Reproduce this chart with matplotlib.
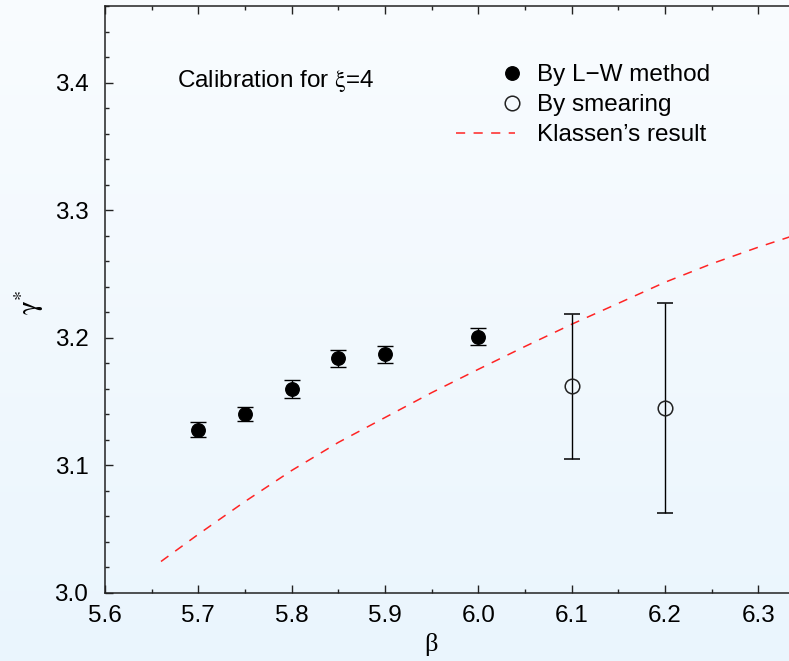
#!/usr/bin/env python3

import numpy as np
import matplotlib
matplotlib.use("Agg")
import matplotlib.pyplot as plt
from matplotlib.lines import Line2D
from matplotlib.legend_handler import HandlerLine2D
from matplotlib.ticker import MultipleLocator

# L-W method points
beta_lw = [5.70, 5.75, 5.80, 5.85, 5.90, 6.00]
gamma_lw = [3.128, 3.140, 3.160, 3.184, 3.187, 3.201]
err_lw = [0.006, 0.0055, 0.0068, 0.0068, 0.0068, 0.0065]

# smearing points
beta_sm = [6.10, 6.20]
gamma_sm = [3.162, 3.145]
err_sm = [0.057, 0.082]

# Klassen's curve
beta_kl = [5.66, 5.70, 5.75, 5.80, 5.85, 5.90, 5.95, 6.00, 6.05, 6.10,
           6.15, 6.20, 6.25, 6.30, 6.35]
gamma_kl = [3.0247, 3.046, 3.0717, 3.096, 3.118, 3.1375, 3.157, 3.1753,
            3.1932, 3.2106, 3.227, 3.2435, 3.258, 3.271, 3.283]


class RightMarkerHandler(HandlerLine2D):
    # single legend marker sits at the right end of the handle box
    def get_xdata(self, legend, xdescent, ydescent, width, height, fontsize):
        xm = -xdescent + width - 2
        return [xm - 1, xm + 1], [xm]


def main():
    plt.rcParams["font.family"] = ["Liberation Sans", "DejaVu Sans"]
    plt.rcParams["mathtext.fontset"] = "stix"

    W, H = 789, 661
    fig = plt.figure(figsize=(W / 100, H / 100), dpi=100)

    # soft gradient background
    bg = fig.add_axes([0, 0, 1, 1], zorder=-10)
    top = np.array([0.976, 0.988, 0.998])
    bot = np.array([0.918, 0.962, 0.993])
    t = np.linspace(0, 1, 256)[:, None]
    grad = top[None, :] * (1 - t) + bot[None, :] * t
    bg.imshow(grad[:, None, :], aspect="auto", extent=[0, 1, 0, 1])
    bg.axis("off")

    left_px, right_px = 105, 789
    bottom_px, top_px = 593, 6
    px_per_tenth = 93.33
    ax = fig.add_axes([left_px / W, 1 - bottom_px / H,
                       (right_px - left_px) / W, (bottom_px - top_px) / H])
    ax.set_facecolor("none")

    ax.plot(beta_kl, gamma_kl, color="#ff2424", lw=1.1,
            linestyle=(0, (6, 5.5)), zorder=2)

    ax.errorbar(beta_lw, gamma_lw, yerr=err_lw, fmt="o", color="black",
                markersize=9.7, elinewidth=1.0, capsize=6, capthick=1.0,
                zorder=3)
    ax.errorbar(beta_sm, gamma_sm, yerr=err_sm, fmt="o", color="black",
                markerfacecolor="none", markeredgecolor="#222222",
                markeredgewidth=1.1, markersize=10.5, elinewidth=1.0,
                capsize=6, capthick=1.0, zorder=3)

    ax.set_xlim(5.6, 5.6 + 0.1 * (right_px - left_px) / px_per_tenth)
    ax.set_ylim(3.0, 3.46)
    ax.xaxis.set_major_locator(MultipleLocator(0.1))
    ax.xaxis.set_minor_locator(MultipleLocator(0.05))
    ax.yaxis.set_major_locator(MultipleLocator(0.1))
    ax.yaxis.set_minor_locator(MultipleLocator(0.02))
    ax.xaxis.set_major_formatter(plt.FormatStrFormatter("%.1f"))
    ax.yaxis.set_major_formatter(plt.FormatStrFormatter("%.1f"))

    ax.tick_params(which="both", direction="in", top=True, right=False,
                   colors="#222222", labelcolor="black", labelsize=17.5)
    ax.tick_params(which="major", length=6, width=1.0)
    ax.tick_params(which="minor", length=3, width=1.0)
    ax.tick_params(axis="x", pad=8.5)
    ax.tick_params(axis="y", pad=12)
    for side in ["left", "bottom", "top"]:
        ax.spines[side].set_color("#222222")
        ax.spines[side].set_linewidth(1.1)
    ax.spines["right"].set_visible(False)

    fig.text(431 / W, 1 - 645 / H, "β", family="Liberation Serif",
             fontsize=19, ha="center", va="center")
    fig.text(29 / W, 1 - 302 / H, r"$\mathrm{\gamma}^{*}$", fontsize=21,
             rotation=90, ha="center", va="center")

    ax.text(5.677, 3.401, r"Calibration for $\mathrm{\xi}$=4", fontsize=17.5,
            ha="left", va="center")

    h_lw = Line2D([], [], marker="o", color="black", linestyle="none",
                  markersize=9.7)
    h_sm = Line2D([], [], marker="o", color="#222222", linestyle="none",
                  markerfacecolor="none", markeredgewidth=1.1,
                  markersize=10.5)
    h_kl = Line2D([], [], color="#ff2424", lw=1.1,
                  linestyle=(0, (6, 5.5)))
    ax.legend([h_lw, h_sm, h_kl],
              ["By L\u2212W method", "By smearing", "Klassen\u2019s result"],
              handler_map={h_lw: RightMarkerHandler(),
                           h_sm: RightMarkerHandler()},
              loc="upper left", bbox_to_anchor=(456 / W, 1 - 64 / H),
              bbox_transform=fig.transFigure, frameon=False,
              fontsize=17.5, handlelength=2.43, handletextpad=0.9,
              labelspacing=0.33, borderpad=0, borderaxespad=0)

    fig.savefig("out.png", dpi=100)


if __name__ == "__main__":
    main()
